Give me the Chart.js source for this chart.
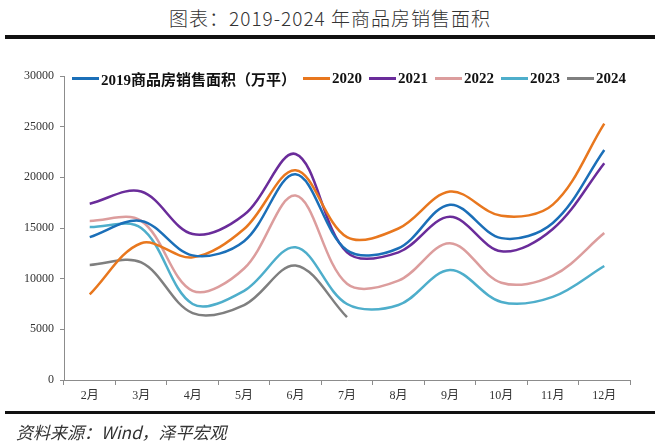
<!DOCTYPE html>
<html lang="zh-CN">
<head>
    <meta charset="UTF-8">
    <title>图表：2019-2024 年商品房销售面积</title>
    <script src="https://cdn.jsdelivr.net/npm/chart.js@4/dist/chart.umd.min.js"></script>
    <style>
        html, body { margin: 0; padding: 0; background: #fff; }
        .page { position: relative; width: 660px; height: 443px; overflow: hidden; }
        .title {
            position: absolute; left: 0; top: 4px; width: 660px; text-align: center;
            font: 19px "Noto Sans CJK SC", "Liberation Serif", serif; color: #333;
            font-weight: 300; letter-spacing: 1px;
        }
        .rule { position: absolute; left: 5px; width: 650px; height: 4px; background: #111; }
        .rule.top { top: 35px; }
        .rule.bottom { top: 411px; height: 3px; }
        .source {
            position: absolute; left: 16px; top: 419px;
            font: italic 17px "Noto Sans CJK SC", "Liberation Serif", serif; color: #333;
        }
        #chart { position: absolute; left: 0; top: 0; }
        .legend {
            position: absolute; left: 72px; top: 68px; display: flex; align-items: center;
            font: bold 15px "Liberation Serif", "Noto Sans CJK SC", serif; color: #111;
            white-space: nowrap;
        }
        .legend .item { display: flex; align-items: center; margin-right: 7px; }
        .legend .swatch { width: 27px; height: 3px; margin-right: 2px; }
    </style>
</head>
<body>
<div class="page">
    <div class="title">图表：2019-2024 年商品房销售面积</div>
    <div class="rule top"></div>
    <canvas id="chart" width="660" height="443"></canvas>
    <div class="legend" id="legend"></div>
    <div class="rule bottom"></div>
    <div class="source">资料来源：Wind，泽平宏观</div>
</div>
<script>
    // categories and series (万平方米)
    const months = ['2月', '3月', '4月', '5月', '6月', '7月', '8月', '9月', '10月', '11月', '12月'];
    const seriesNames = ['2019商品房销售面积（万平）', '2020', '2021', '2022', '2023', '2024'];
    const seriesColors = ['#1b6fb8', '#e8771e', '#6a2c9a', '#dc9d9d', '#4eaecb', '#7f7f7f'];

    const sales2019 = [14100, 15700, 12300, 13700, 20300, 12800, 13000, 17300, 14000, 15500, 22700];
    const sales2020 = [8450, 13500, 12100, 14900, 20700, 14100, 14950, 18600, 16200, 17300, 25300];
    const sales2021 = [17400, 18600, 14400, 16300, 22300, 12600, 12600, 16100, 12700, 14900, 21400];
    const sales2022 = [15700, 15700, 8800, 11000, 18200, 9500, 9800, 13500, 9600, 10300, 14500];
    const sales2023 = [15100, 15000, 7500, 8800, 13100, 7500, 7400, 10850, 7700, 8200, 11250];
    const sales2024 = [11350, 11600, 6600, 7400, 11300, 6200, null, null, null, null, null];

    const yTicks = [0, 5000, 10000, 15000, 20000, 25000, 30000];

    const allSeries = [sales2019, sales2020, sales2021, sales2022, sales2023, sales2024];

    // html legend
    const legend = document.getElementById('legend');
    seriesNames.forEach((name, i) => {
        const item = document.createElement('div');
        item.className = 'item';
        const sw = document.createElement('span');
        sw.className = 'swatch';
        sw.style.background = seriesColors[i];
        const label = document.createElement('span');
        label.textContent = name;
        item.appendChild(sw);
        item.appendChild(label);
        legend.appendChild(item);
    });

    const axisGray = '#8c8c8c';
    const tickFont = { family: "'Liberation Serif', 'Noto Sans CJK SC', serif", size: 12 };

    new Chart(document.getElementById('chart'), {
        type: 'line',
        data: {
            labels: months,
            datasets: allSeries.map((data, i) => ({
                label: seriesNames[i],
                data: data,
                borderColor: seriesColors[i],
                backgroundColor: seriesColors[i],
                borderWidth: 2.5,
                pointRadius: 0,
                tension: 0.35,
                fill: false
            }))
        },
        options: {
            responsive: false,
            animation: false,
            layout: { padding: { top: 76, right: 30, bottom: 33, left: 0 } },
            plugins: {
                legend: { display: false },
                tooltip: { enabled: false }
            },
            scales: {
                x: {
                    type: 'category',
                    offset: true,
                    grid: { offset: true, drawOnChartArea: false, drawTicks: true, tickLength: 5, color: axisGray },
                    border: { color: axisGray, width: 1 },
                    ticks: { font: tickFont, color: '#333', padding: 4, maxRotation: 0, autoSkip: false },
                    afterFit: (scale) => { scale.height = 30; }
                },
                y: {
                    min: 0,
                    max: 30000,
                    afterBuildTicks: (scale) => { scale.ticks = yTicks.map(v => ({ value: v })); },
                    grid: { drawOnChartArea: false, drawTicks: true, tickLength: 4, color: axisGray },
                    border: { color: axisGray, width: 1 },
                    ticks: { font: tickFont, color: '#333', padding: 6, callback: (v) => String(v) },
                    afterFit: (scale) => { scale.width = 64; }
                }
            }
        }
    });
</script>
</body>
</html>
